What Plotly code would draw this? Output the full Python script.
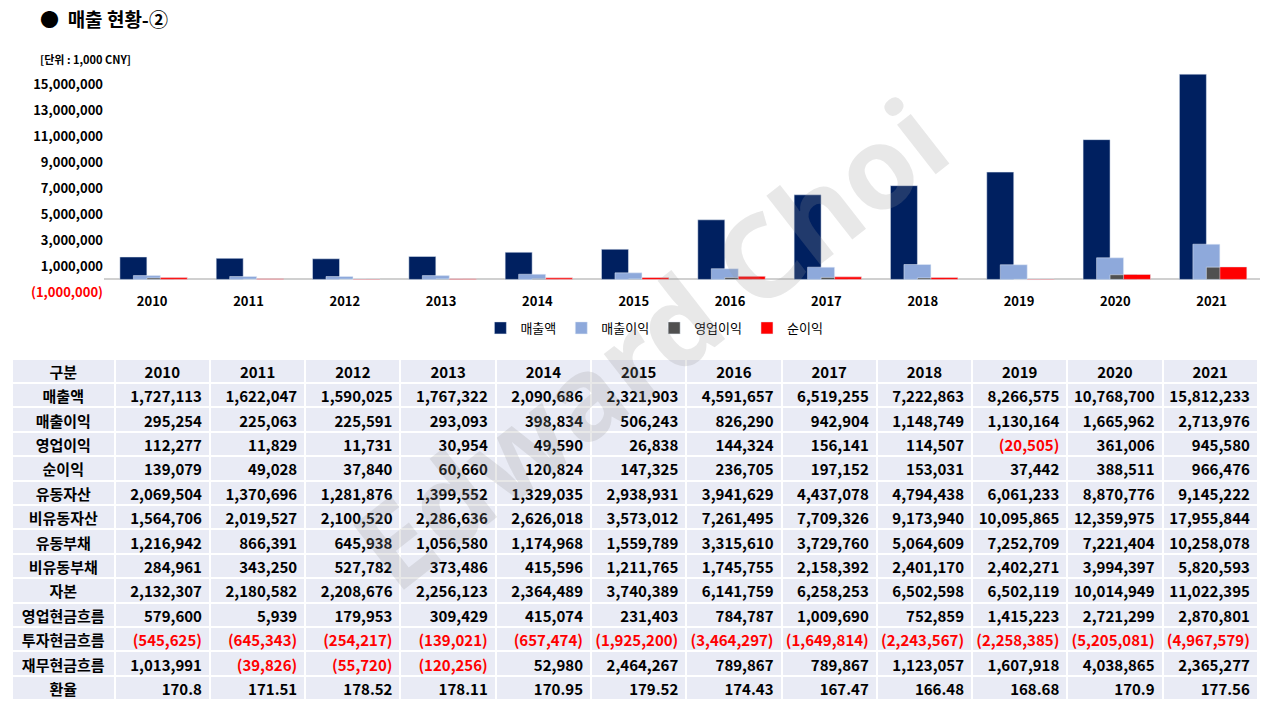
import plotly.graph_objects as go

years = [2010,2011,2012,2013,2014,2015,2016,2017,2018,2019,2020,2021]
rows = ["매출액","매출이익","영업이익","순이익","유동자산","비유동자산","유동부채","비유동부채","자본","영업현금흐름","투자현금흐름","재무현금흐름","환율"]
sales = [1727113,1622047,1590025,1767322,2090686,2321903,4591657,6519255,7222863,8266575,10768700,15812233]
gross = [295254,225063,225591,293093,398834,506243,826290,942904,1148749,1130164,1665962,2713976]
oper = [112277,11829,11731,30954,49590,26838,144324,156141,114507,-20505,361006,945580]
net = [139079,49028,37840,60660,120824,147325,236705,197152,153031,37442,388511,966476]
cur_assets = [2069504,1370696,1281876,1399552,1329035,2938931,3941629,4437078,4794438,6061233,8870776,9145222]
noncur_assets = [1564706,2019527,2100520,2286636,2626018,3573012,7261495,7709326,9173940,10095865,12359975,17955844]
cur_liab = [1216942,866391,645938,1056580,1174968,1559789,3315610,3729760,5064609,7252709,7221404,10258078]
noncur_liab = [284961,343250,527782,373486,415596,1211765,1745755,2158392,2401170,2402271,3994397,5820593]
equity = [2132307,2180582,2208676,2256123,2364489,3740389,6141759,6258253,6502598,6502119,10014949,11022395]
op_cf = [579600,5939,179953,309429,415074,231403,784787,1009690,752859,1415223,2721299,2870801]
inv_cf = [-545625,-645343,-254217,-139021,-657474,-1925200,-3464297,-1649814,-2243567,-2258385,-5205081,-4967579]
fin_cf = [1013991,-39826,-55720,-120256,52980,2464267,789867,789867,1123057,1607918,4038865,2365277]
fx = ["170.8","171.51","178.52","178.11","170.95","179.52","174.43","167.47","166.48","168.68","170.9","177.56"]
ytick_vals = [-1000000,1000000,3000000,5000000,7000000,9000000,11000000,13000000,15000000]

series = [("매출액", sales, "#002060", -0.335), ("매출이익", gross, "#8EA9DB", -0.195),
          ("영업이익", oper, "#505050", -0.055), ("순이익", net, "#FF0000", 0.085)]

fig = go.Figure()
for name, vals, col, off in series:
    fig.add_trace(go.Bar(x=years, y=vals, name=name, marker_color=col, width=0.28, offset=off))

def fmt(v):
    return f"({abs(v):,})" if v < 0 else f"{v:,}"

def ytxt(v):
    return f"<span style='color:#FF0000'>({abs(v):,})</span>" if v < 0 else f"{v:,}"

data_rows = [sales,gross,oper,net,cur_assets,noncur_assets,cur_liab,noncur_liab,equity,op_cf,inv_cf,fin_cf]
cols_vals = [rows]
cols_colors = [["black"]*len(rows)]
for j in range(len(years)):
    cv = [fmt(r[j]) for r in data_rows] + [fx[j]]
    cc = ["#FF0000" if r[j] < 0 else "black" for r in data_rows] + ["black"]
    cols_vals.append(cv); cols_colors.append(cc)

fig.add_trace(go.Table(
    domain=dict(x=[0.003, 0.977], y=[0.0, 0.507]),
    columnwidth=[103] + [95.4]*12,
    header=dict(values=["구분"] + [str(y) for y in years], fill_color="#E9EBF5",
                line=dict(color="white", width=2), align="center", height=24.4,
                font=dict(family="Noto Sans CJK KR", size=15, color="black", weight="bold")),
    cells=dict(values=cols_vals, fill_color="#E9EBF5", line=dict(color="white", width=2),
               align=["center"] + ["right"]*12, height=24.4,
               font=dict(family="Noto Sans CJK KR", size=15, color=cols_colors, weight="bold"))
))

fig.update_layout(
    width=1280, height=720, margin=dict(l=0, r=0, t=0, b=0),
    paper_bgcolor="white", plot_bgcolor="white", barmode="overlay", showlegend=True,
    font=dict(family="Noto Sans CJK KR", color="black"),
    xaxis=dict(domain=[0.075, 0.978], range=[2009.5, 2021.5], tickvals=years,
               showgrid=False, showline=False, zeroline=False, ticks="",
               tickfont=dict(size=13, weight="bold")),
    yaxis=dict(domain=[0.6, 0.914], range=[-1000000, 16200000], tickvals=ytick_vals,
               ticktext=[ytxt(v) for v in ytick_vals], showgrid=False, zeroline=True,
               zerolinecolor="#D0D0D0", zerolinewidth=1.5, tickfont=dict(size=13, weight="bold")),
    legend=dict(orientation="h", x=0.505, y=0.55, xanchor="center", yanchor="middle",
                font=dict(size=13), itemwidth=30, traceorder="normal"),
    annotations=[
        dict(text="●  매출 현황-②", x=30/1280, y=1-11/720, xref="paper", yref="paper",
             xanchor="left", yanchor="middle", showarrow=False, font=dict(size=19, weight="bold")),
        dict(text="[단위 : 1,000 CNY]", x=30/1280, y=1-52/720, xref="paper", yref="paper",
             xanchor="left", yanchor="middle", showarrow=False, font=dict(size=11, weight="bold")),
        dict(text="Edward Choi", x=0.5, y=0.53, xref="paper", yref="paper", showarrow=False,
             textangle=-38, font=dict(size=115, color="rgba(150,150,150,0.22)", family="Noto Sans", weight="bold")),
    ],
)
fig.write_html("out.html")
